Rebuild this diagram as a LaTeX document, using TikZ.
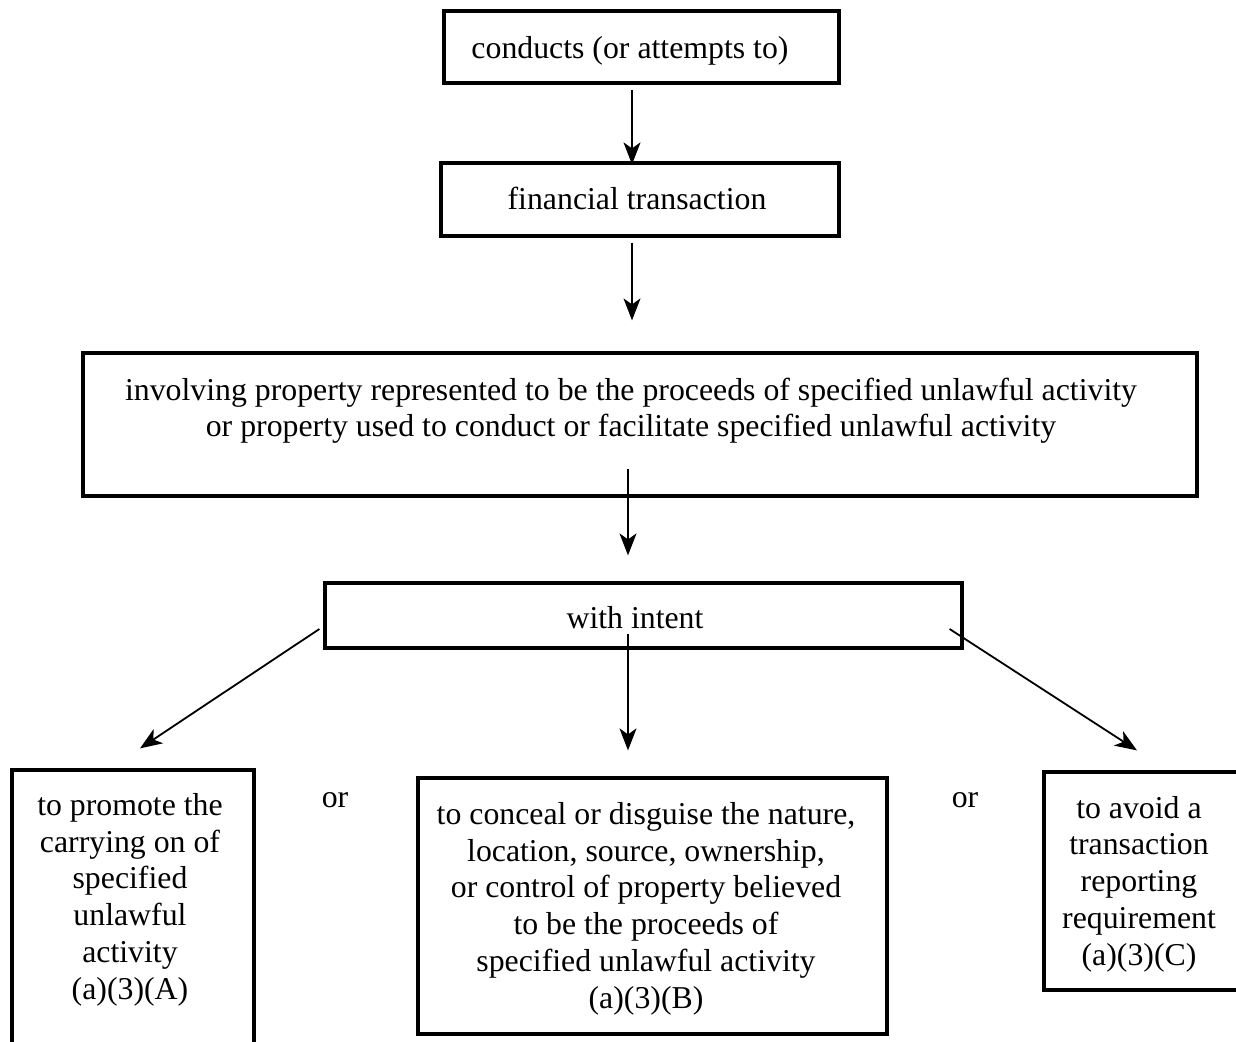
\documentclass[tikz,border=0pt]{standalone}
\usepackage{fontspec}
\setmainfont{Liberation Serif}
\usetikzlibrary{arrows.meta}

\begin{document}
\begin{tikzpicture}[x=0.5pt,y=-0.5pt,
    box/.style={draw,line width=1.6pt,inner sep=0pt},
    txt/.style={anchor=base,inner sep=0pt,align=center,font=\fontsize{15.9}{18.35}\selectfont},
    arr/.style={line width=0.9pt,-{Stealth[length=11pt,width=8.5pt,inset=3pt]}}]
    \useasboundingbox (0,0) rectangle (1236,1042);
    % boxes
    \node[box,minimum width=197.5pt,minimum height=36pt] (cond) at (641.5,47) {};
    \node[box,minimum width=199pt,minimum height=36.5pt] (fin) at (640,199.5) {};
    \node[box,minimum width=557pt,minimum height=71.5pt] (prop) at (640,424.5) {};
    \node[box,minimum width=318.5pt,minimum height=32.5pt] (intent) at (643.5,615.5) {};
    \node[box,minimum width=121pt,minimum height=145pt] (A) at (133,915) {};
    \node[box,minimum width=234.5pt,minimum height=128pt] (B) at (652.5,906) {};
    \node[box,minimum width=99pt,minimum height=109pt] (C) at (1143,881) {};
    % texts (base = last line)
    \node[txt] (condt) at (630,59) {conducts (or attempts to)};
    \node[txt] (fint) at (637,210) {financial transaction};
    \node[txt] (propt) at (631,437) {involving property represented to be the proceeds of specified unlawful activity\\
        or property used to conduct or facilitate specified unlawful activity};
    \node[txt] (intentt) at (635,628) {with intent};
    \node[txt] (At) at (130,999) {to promote the\\carrying on of\\specified\\unlawful\\activity\\(a)(3)(A)};
    \node[txt] (Bt) at (646,1008) {to conceal or disguise the nature,\\location, source, ownership,\\or control of property believed\\
        to be the proceeds of\\specified unlawful activity\\(a)(3)(B)};
    \node[txt] (Ct) at (1139,965) {to avoid a\\transaction\\reporting\\requirement\\(a)(3)(C)};
    \node[txt] (or1) at (335,807) {or};
    \node[txt] (or2) at (965,807) {or};
    % arrows
    \draw[arr] ([xshift=-4.75pt,yshift=-2.5pt]cond.south) -- ([xshift=-4pt,yshift=-1.5pt]fin.north);
    \draw[arr] ([xshift=-4pt,yshift=-2.5pt]fin.south) -- ([xshift=-4pt,yshift=15.5pt]prop.north);
    \draw[arr] ([xshift=-6pt,yshift=14.5pt]prop.south) -- ([xshift=-7.75pt,yshift=13pt]intent.north);
    \draw[arr] ([xshift=-7.75pt,yshift=8pt]intent.south) -- ([xshift=-12.25pt,yshift=13pt]B.north);
    \draw[arr] ([xshift=-2pt,yshift=-6.75pt]intent.west) -- ([xshift=3.5pt,yshift=10pt]A.north);
    \draw[arr] ([xshift=-7pt,yshift=-6.75pt]intent.east) -- ([xshift=-3pt,yshift=10pt]C.north);
\end{tikzpicture}
\end{document}
